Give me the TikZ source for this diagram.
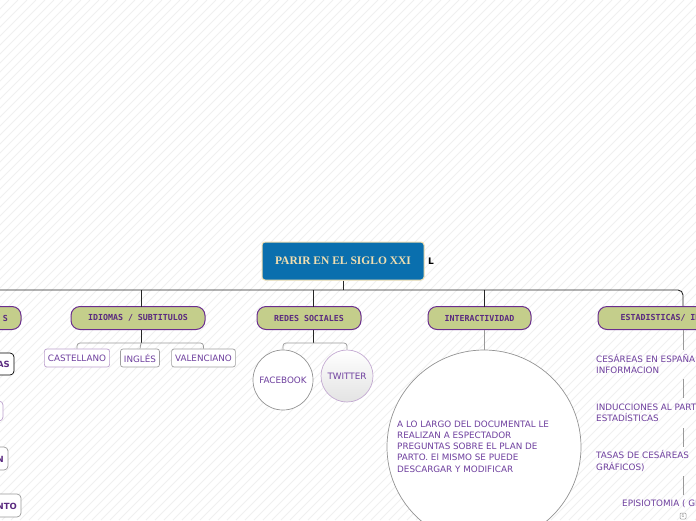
\documentclass[tikz,border=0pt]{standalone}
\usepackage{fontspec}
\setmainfont{DejaVu Sans}
\newfontfamily\rootfont{Liberation Serif}
\newfontfamily\pixfont{DejaVu Sans Mono}
\definecolor{rootblue}{HTML}{0A6FAE}
\definecolor{rootbeige}{HTML}{F1DFB0}
\definecolor{olivefill}{HTML}{C4CE8B}
\definecolor{purbrd}{HTML}{6B2E8F}
\definecolor{ptext}{HTML}{5A2A80}
\definecolor{ltext}{HTML}{6E3F9E}
\definecolor{stripe}{HTML}{F0F0F0}
\tikzset{
  rootbox/.style={draw=rootbeige, line width=1pt, fill=rootblue, rounded corners=3pt,
    minimum width=162pt, minimum height=38pt, text=rootbeige,
    font=\rootfont\bfseries\fontsize{11.5}{13}\selectfont},
  branch/.style={draw=purbrd, line width=1pt, fill=olivefill, rounded corners=9pt,
    minimum height=23pt, text=ptext, font=\pixfont\bfseries\fontsize{8.3}{10}\selectfont},
  leaf/.style={draw=gray!75, line width=0.7pt, fill=white, rounded corners=2.5pt,
    minimum height=18pt, inner xsep=3.5pt, text=ltext, font=\fontsize{8.8}{10}\selectfont},
  round/.style={circle, draw=gray!85, line width=0.7pt, fill=white, inner sep=0pt,
    text=ltext, font=\fontsize{8.8}{10}\selectfont},
  plain/.style={text=ltext, font=\fontsize{8.8}{11.2}\selectfont, align=left, inner sep=1pt},
  conn/.style={line width=0.9pt, draw=black!85},
  thin/.style={line width=0.7pt, draw=gray!80},
  sidebox/.style={draw=gray!80, line width=0.7pt, fill=white, rounded corners=4pt},
  sidetext/.style={text=ptext, font=\bfseries\fontsize{8.5}{10}\selectfont, inner sep=0pt}
}
\begin{document}
\begin{tikzpicture}[x=1pt,y=-1pt]
\useasboundingbox (0,0) rectangle (696,520);
\clip (0,0) rectangle (696,520);
\fill[white] (0,0) rectangle (696,520);
\foreach \i in {-520,-511,...,700} \draw[stripe, line width=1pt] (\i,520) -- ({\i+520},0);

% root
\node[rootbox] (root) at (343,261) {PARIR EN EL SIGLO XXI};
\node[font=\bfseries\fontsize{9}{10}\selectfont, inner sep=0pt] (lbl) at (431,261) {L};

% branches
\node[branch, minimum width=134pt] (left) at (-46,318) {};
\node[sidetext, font=\pixfont\bfseries\fontsize{8.3}{10}\selectfont, anchor=east] (leftt) at (8,318) {S};
\node[branch, minimum width=134pt] (idi) at (138,318) {IDIOMAS / SUBTITULOS};
\node[branch, minimum width=104pt] (red) at (309,318) {REDES SOCIALES};
\node[branch, minimum width=103pt] (inter) at (479.5,318) {INTERACTIVIDAD};
\node[branch, minimum width=170pt] (est) at (683,318) {ESTADISTICAS/ INFORMACION};

\coordinate (bus) at (343,290);
\draw[conn] (root.south) -- (bus);
\draw[conn, rounded corners=5pt] (left.north |- bus) -- (est.north |- bus) -- (est.north);
\draw[conn] (141,307) -- (141,290);
\draw[conn] (313,307) -- (313,290);
\draw[conn] (484,307) -- (484,290);

% idiomas children
\node[leaf, draw=purbrd!45] (cast) at (77,358) {CASTELLANO};
\node[leaf] (ing) at (140,358) {INGLÉS};
\node[leaf] (val) at (203.5,358) {VALENCIANO};
\coordinate (brk1) at (141,343);
\draw[conn] (141,330) -- (brk1);
\draw[thin, rounded corners=3pt] (cast.north) -- (cast.north |- brk1) -- (val.north |- brk1) -- (val.north);
\draw[thin] (brk1) -- (ing.north);

% redes children
\node[round, minimum size=60pt] (fb) at (283,380) {FACEBOOK};
\node[round, draw=purbrd!40, top color=white, bottom color=gray!22, minimum size=52pt] (tw) at (347,376) {TWITTER};
\coordinate (brk2) at (313,343);
\draw[conn] (313,330) -- (brk2);
\draw[thin, rounded corners=3pt] (fb.north) -- (fb.north |- brk2) -- (tw.north |- brk2) -- (tw.north);

% interactividad
\node[round, minimum size=194pt] (intc) at (484,447) {};
\draw[thin] (484,330) -- (intc.north);
\node[plain, anchor=west] (intt) at (396,446.5) {A LO LARGO DEL DOCUMENTAL LE\\REALIZAN A ESPECTADOR\\PREGUNTAS SOBRE EL PLAN DE\\PARTO. El MISMO SE PUEDE\\DESCARGAR Y MODIFICAR};

% estadisticas
\node[plain, anchor=west] (e1) at (595,364) {CESÁREAS EN ESPAÑA\\INFORMACION};
\node[plain, anchor=west] (e2) at (595,412.5) {INDUCCIONES AL PARTO\\ESTADÍSTICAS};
\node[plain, anchor=west] (e3) at (595,461) {TASAS DE CESÁREAS\\GRÁFICOS)};
\node[plain, anchor=west] (e4) at (621,503) {EPISIOTOMIA ( GRÁFICOS)};
\draw[thin] (683,330) -- (683,350);
\draw[thin] (683,379) -- (683,398);
\draw[thin] (683,428) -- (683,447);
\draw[thin] (683,476) -- (683,495);
\node[draw=gray!80, line width=0.5pt, rounded corners=1pt, minimum size=6pt, inner sep=0pt,
  font=\fontsize{4.5}{5}\selectfont, text=gray] (e4b) at (683,516) {1};

% left column (cut off)
\node[sidebox, draw=black, minimum width=60pt, minimum height=22pt] (l1) at (-16,364) {};
\node[sidetext, anchor=east] (l1t) at (10,364.5) {AS};
\node[sidebox, draw=purbrd!45, minimum width=60pt, minimum height=20pt] (l2) at (-27,411) {};
\node[sidebox, minimum width=60pt, minimum height=23pt] (l3) at (-22,458.5) {};
\node[sidetext, anchor=east] (l3t) at (4,459) {N};
\node[sidebox, minimum width=60pt, minimum height=23pt] (l4) at (-9,505.5) {};
\node[sidetext, anchor=east] (l4t) at (17,506) {NTO};
\end{tikzpicture}
\end{document}
